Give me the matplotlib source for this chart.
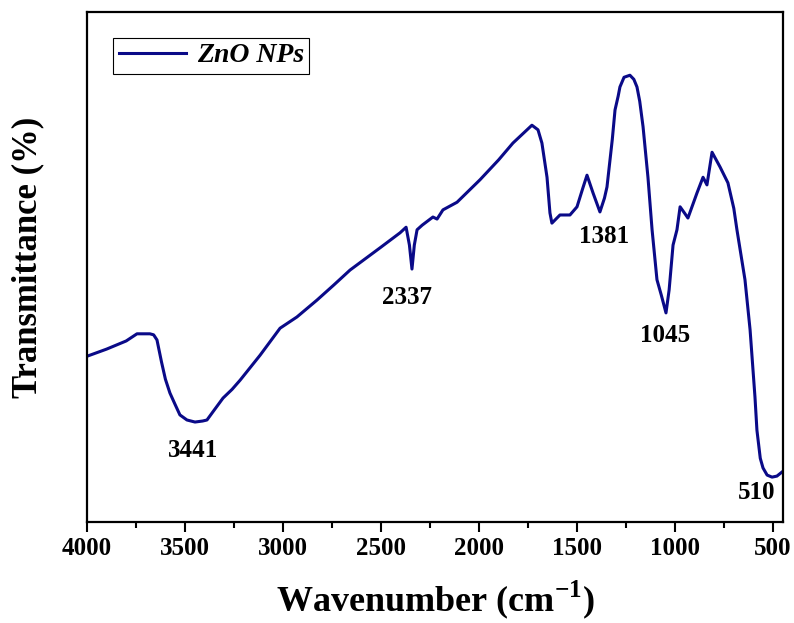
import numpy as np
import matplotlib
matplotlib.use("Agg")
import matplotlib.pyplot as plt

plt.rcParams['font.family'] = ['Liberation Serif', 'DejaVu Serif']
plt.rcParams['mathtext.fontset'] = 'custom'
plt.rcParams['mathtext.rm'] = 'Liberation Serif'
plt.rcParams['mathtext.bf'] = 'Liberation Serif:bold'

# FTIR spectrum (wavenumber in cm-1, transmittance in a.u.)
wavenumber = [4000, 3900, 3800, 3745, 3679, 3660, 3643, 3620, 3600, 3577,
              3550, 3526, 3490, 3449, 3410, 3388, 3350, 3306, 3260, 3219,
              3117, 3015, 2929, 2827, 2740, 2658, 2500, 2403, 2372, 2355,
              2342, 2330, 2316, 2290, 2235, 2214, 2184, 2112, 1995, 1900,
              1827, 1730, 1699, 1679, 1653, 1638, 1628, 1587, 1536, 1500,
              1470, 1449, 1418, 1383, 1360, 1347, 1320, 1306, 1290, 1281,
              1260, 1230, 1210, 1194, 1180, 1163, 1138, 1117, 1092, 1070,
              1046, 1030, 1010, 990, 974, 950, 934, 888, 857, 837,
              811, 770, 730, 700, 684, 643, 617, 592, 582, 565,
              551, 530, 505, 480, 454]
transmittance = [32.5, 33.9, 35.5, 36.9, 36.9, 36.7, 35.7, 31.4, 28.0, 25.3,
                 23.0, 21.0, 20.0, 19.6, 19.8, 20.0, 22.0, 24.3, 26.0, 27.8,
                 32.7, 38.0, 40.2, 43.5, 46.5, 49.4, 53.9, 56.7, 57.8, 54.3,
                 49.6, 54.3, 57.3, 58.2, 59.8, 59.4, 61.2, 62.7, 67.1, 71.0,
                 74.3, 77.8, 76.9, 74.3, 67.6, 60.6, 58.6, 60.2, 60.2, 61.8,
                 65.5, 68.0, 64.5, 60.8, 63.5, 65.7, 75.0, 80.8, 83.5, 85.3,
                 87.2, 87.6, 86.8, 85.3, 82.5, 77.5, 67.6, 57.3, 47.5, 44.5,
                 41.0, 45.5, 54.3, 57.3, 61.8, 60.5, 59.6, 64.5, 67.6, 66.1,
                 72.5, 69.6, 66.5, 61.5, 57.3, 47.5, 37.7, 24.5, 18.0, 12.5,
                 10.6, 9.2, 8.8, 9.0, 9.8]

peak_labels = ['3441', '2337', '1381', '1045', '510']
peak_pos = [3459, 2367, 1362, 1051, 582]
peak_y = [14.1, 44.1, 55.9, 36.5, 5.7]

fig = plt.figure(figsize=(7.94, 6.23), dpi=100)
ax = fig.add_axes([87/794, 101/623, 696/794, 510/623])

ax.plot(wavenumber, transmittance, color='#0a0a88', lw=2.2, label='ZnO NPs')

for lab, x, y in zip(peak_labels, peak_pos, peak_y):
    ax.text(x, y, lab, ha='center', va='center', fontsize=18, fontweight='bold')

ax.set_xlim(4000, 449)
ax.set_ylim(0, 100)
ax.set_xticks([4000, 3500, 3000, 2500, 2000, 1500, 1000, 500])
ax.set_xticks(np.arange(3750, 450, -500), minor=True)
ax.tick_params(axis='x', which='major', length=7, width=1.5, labelsize=18, pad=4)
ax.tick_params(axis='x', which='minor', length=4, width=1.5)
ax.set_yticks([])
for lbl in ax.get_xticklabels():
    lbl.set_fontweight('bold')
for s in ax.spines.values():
    s.set_linewidth(1.6)

ax.set_xlabel(r'Wavenumber (cm$^{\mathbf{-1}}$)', fontsize=26, fontweight='bold', va='center')
ax.xaxis.set_label_coords(0.5, -0.152)
ax.set_ylabel('Transmittance (%)', fontsize=25, fontweight='bold', va='center')
ax.yaxis.set_label_coords(-0.085, 0.518)

leg = ax.legend(loc='upper left', bbox_to_anchor=(0.038, 0.95), fancybox=False,
                edgecolor='black', framealpha=1, handlelength=2.4, handletextpad=0.4,
                borderpad=0.2, borderaxespad=0,
                prop={'size': 20, 'weight': 'bold', 'style': 'italic'})
leg.get_frame().set_linewidth(0.8)

plt.savefig('out.png', dpi=100)
